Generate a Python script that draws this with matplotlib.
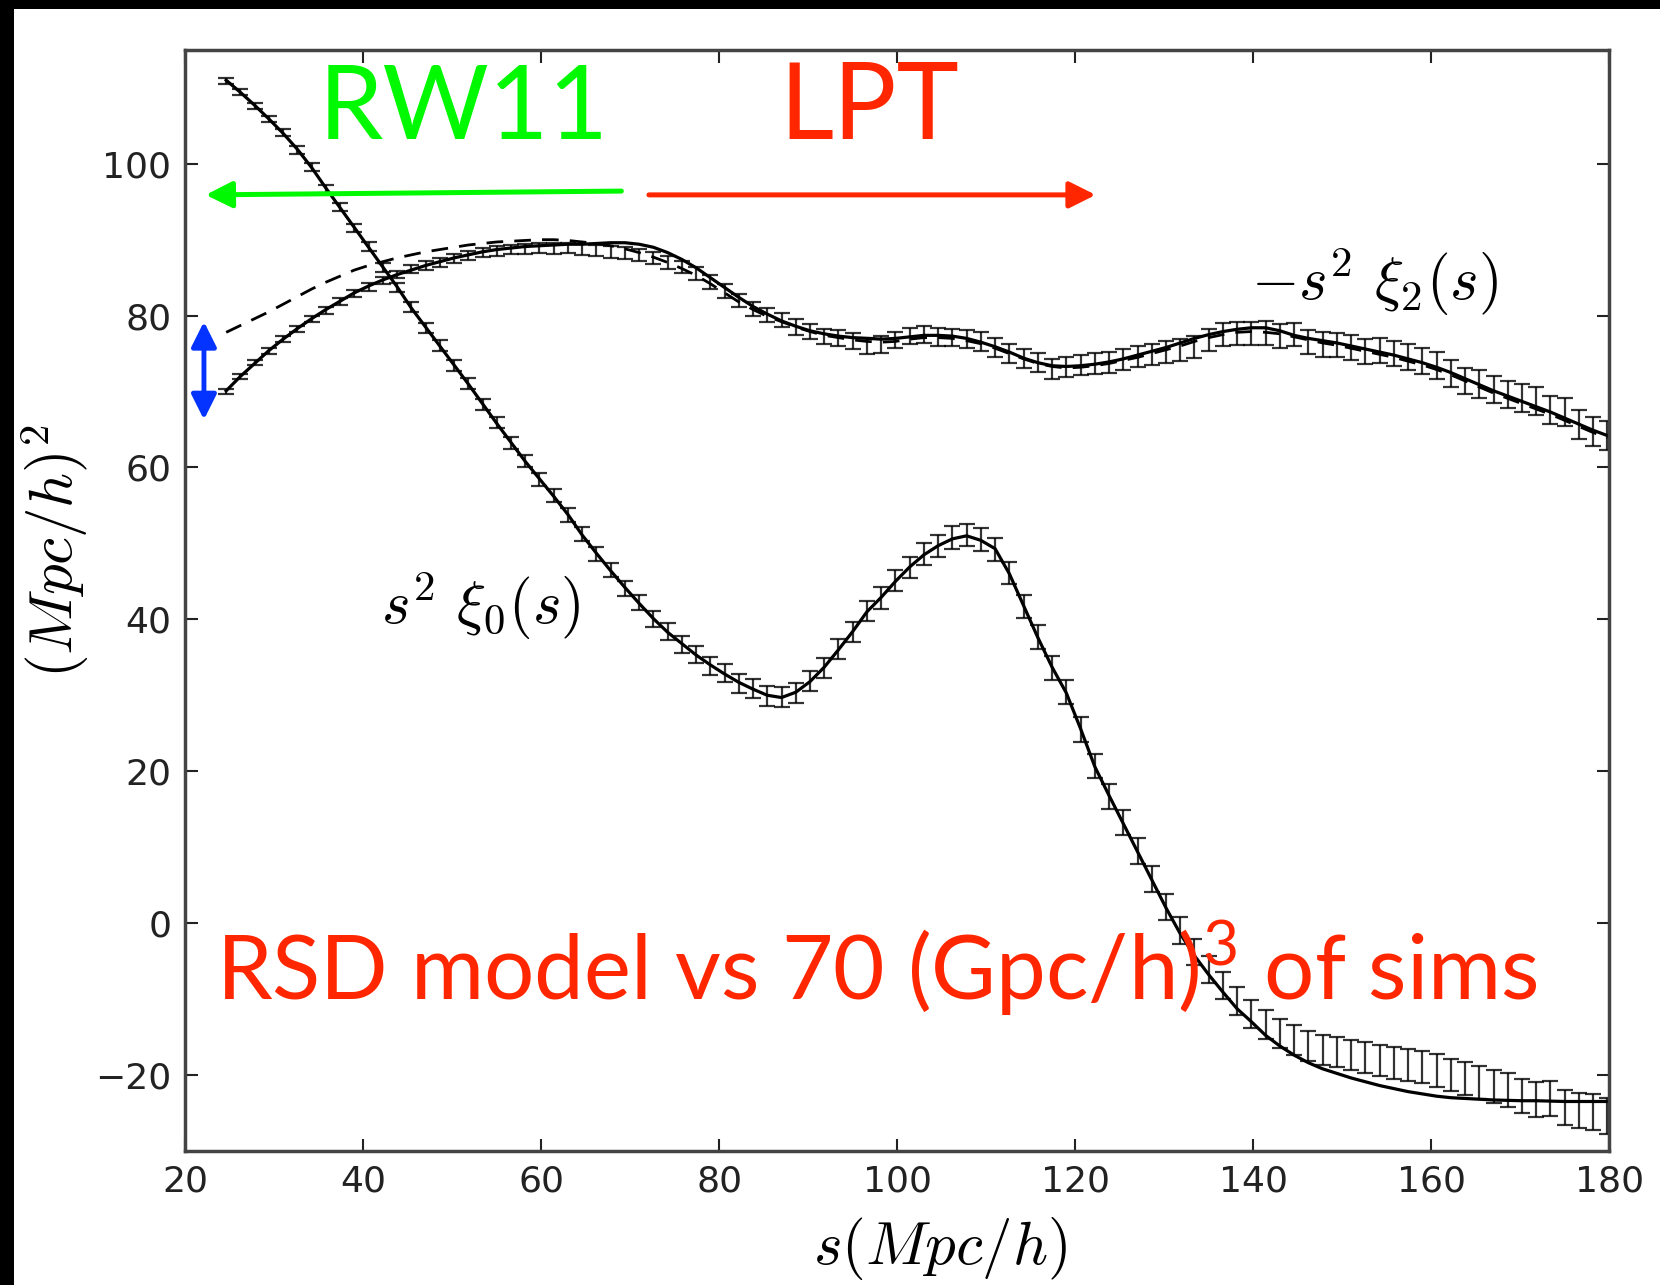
import numpy as np
import matplotlib
matplotlib.use("Agg")
import matplotlib.pyplot as plt
from matplotlib.patches import Rectangle

plt.rcParams['mathtext.fontset'] = 'custom'
plt.rcParams['mathtext.rm'] = 'Lato'

# bin centres in Mpc/h
s_bins = np.round(np.arange(24.6, 180.0, 1.6), 1)

# monopole s^2 xi_0 : model (solid) and simulation points
mono_model = [111.0, 109.4, 107.7, 105.9, 104.0, 101.9, 99.5, 96.8, 94.2, 91.6,
              89.0, 86.4, 83.8, 81.0, 78.5, 76.0, 73.5, 71.0, 68.4, 65.8,
              63.3, 60.8, 58.5, 56.2, 53.8, 51.1, 48.7, 46.4, 44.2, 42.1,
              40.1, 38.3, 36.8, 35.3, 34.0, 32.8, 31.7, 30.8, 30.0, 29.7,
              30.4, 31.8, 33.7, 36.0, 38.4, 41.0, 42.9, 45.0, 46.9, 48.5,
              49.7, 50.6, 51.0, 50.4, 49.3, 46.0, 41.8, 37.6, 33.7, 30.3,
              25.6, 20.6, 16.8, 13.1, 9.4, 5.7, 2.0, -1.4, -4.3, -6.8,
              -9.1, -11.3, -13.0, -14.8, -16.2, -17.4, -18.4, -19.2, -19.8, -20.4,
              -20.9, -21.4, -21.8, -22.2, -22.5, -22.8, -23.0, -23.1, -23.2, -23.3,
              -23.35, -23.4, -23.4, -23.45, -23.5, -23.5, -23.5, -23.5]
mono_data = [110.9, 109.5, 107.6, 105.9, 104.1, 101.8, 99.6, 96.7, 94.3, 91.5,
             89.1, 86.3, 83.7, 81.1, 78.4, 76.1, 73.4, 71.1, 68.3, 65.9,
             63.2, 60.9, 58.4, 56.3, 53.7, 51.2, 48.6, 46.5, 44.1, 42.2,
             40.0, 38.4, 36.7, 35.4, 33.9, 32.9, 31.6, 30.9, 29.9, 29.8,
             30.3, 31.9, 33.6, 36.1, 38.3, 41.1, 42.8, 45.1, 46.8, 48.6,
             49.6, 50.8, 51.1, 50.5, 49.2, 46.1, 41.7, 37.7, 33.6, 30.4,
             25.5, 20.7, 16.7, 13.2, 9.5, 5.8, 2.1, -1.0, -3.8, -6.1,
             -8.2, -10.3, -12.0, -13.4, -14.5, -15.4, -16.2, -16.7, -17.0, -17.4,
             -17.7, -18.1, -18.4, -18.7, -19.0, -19.4, -20.0, -20.5, -21.0, -21.5,
             -22.0, -22.8, -23.2, -23.1, -24.3, -24.7, -24.9, -25.4]
mono_err = [0.4, 0.4, 0.4, 0.45, 0.45, 0.5, 0.5, 0.5, 0.55, 0.55,
            0.6, 0.6, 0.6, 0.65, 0.65, 0.7, 0.7, 0.7, 0.75, 0.75,
            0.8, 0.8, 0.85, 0.85, 0.9, 0.9, 0.95, 0.95, 1.0, 1.0,
            1.05, 1.1, 1.1, 1.15, 1.2, 1.2, 1.25, 1.3, 1.3, 1.3,
            1.3, 1.3, 1.3, 1.35, 1.35, 1.35, 1.4, 1.4, 1.4, 1.45,
            1.45, 1.5, 1.5, 1.5, 1.5, 1.5, 1.55, 1.55, 1.55, 1.6,
            1.6, 1.6, 1.65, 1.65, 1.7, 1.7, 1.7, 1.75, 1.75, 1.8,
            1.8, 1.85, 1.85, 1.9, 1.9, 1.95, 1.95, 2.0, 2.0, 2.0,
            2.05, 2.05, 2.1, 2.1, 2.1, 2.15, 2.15, 2.2, 2.2, 2.2,
            2.25, 2.25, 2.3, 2.3, 2.35, 2.35, 2.4, 2.4]

# quadrupole -s^2 xi_2 : LPT model (solid), RW11 model (dashed), simulation points
quad_model = [70.1, 72.0, 73.7, 75.4, 76.9, 78.3, 79.6, 80.8, 81.9, 83.0,
              83.9, 84.7, 85.4, 86.0, 86.6, 87.1, 87.6, 88.0, 88.4, 88.7,
              88.9, 89.1, 89.2, 89.3, 89.4, 89.4, 89.5, 89.6, 89.6, 89.4,
              89.0, 88.3, 87.4, 86.3, 85.0, 83.7, 82.4, 81.2, 80.2, 79.3,
              78.6, 78.0, 77.6, 77.3, 77.1, 77.0, 76.9, 77.0, 77.2, 77.4,
              77.4, 77.3, 77.0, 76.5, 75.9, 75.2, 74.4, 73.8, 73.4, 73.3,
              73.4, 73.6, 73.9, 74.3, 74.8, 75.3, 75.8, 76.4, 77.0, 77.5,
              77.9, 78.2, 78.4, 78.4, 78.0, 77.4, 77.0, 76.7, 76.4, 76.0,
              75.6, 75.2, 74.8, 74.3, 73.8, 73.2, 72.5, 71.7, 70.9, 70.1,
              69.4, 68.7, 68.0, 67.3, 66.5, 65.7, 64.9, 64.2]
quad_rw11 = [77.8, 78.7, 79.6, 80.5, 81.5, 82.5, 83.5, 84.4, 85.2, 86.0,
             86.6, 87.1, 87.6, 88.0, 88.4, 88.7, 89.0, 89.3, 89.5, 89.7,
             89.8, 89.9, 90.0, 90.0, 89.9, 89.7, 89.5, 89.2, 88.8, 88.3,
             87.7, 87.0, 86.2, 85.3, 84.2, 83.0, 81.8, 80.8, 79.9, 79.2,
             78.5, 77.9, 77.4, 77.1, 76.8, 76.6, 76.5, 76.6, 76.9, 77.1,
             77.1, 77.0, 76.7, 76.3, 75.7, 75.0, 74.3, 73.7, 73.3, 73.1,
             73.2, 73.4, 73.7, 74.1, 74.5, 75.0, 75.5, 76.0, 76.6, 77.1,
             77.5, 77.8, 77.9, 77.8, 77.6, 77.2, 76.8, 76.4, 76.1, 75.7,
             75.3, 74.9, 74.5, 74.0, 73.5, 72.9, 72.2, 71.4, 70.6, 69.8,
             69.1, 68.4, 67.7, 67.0, 66.2, 65.4, 64.6, 63.9]
quad_data = [70.0, 72.0, 73.8, 75.4, 76.9, 78.2, 79.6, 80.7, 81.9, 82.9,
             83.8, 84.6, 85.4, 86.1, 86.6, 87.0, 87.5, 87.9, 88.3, 88.5,
             88.7, 88.8, 88.9, 88.8, 88.9, 88.7, 88.6, 88.4, 88.2, 88.0,
             87.6, 87.0, 86.4, 85.6, 84.4, 83.2, 82.0, 80.9, 80.1, 79.4,
             78.5, 77.9, 77.2, 77.0, 76.6, 76.0, 76.2, 76.8, 77.3, 77.5,
             77.2, 77.1, 76.9, 76.6, 75.8, 75.0, 74.3, 73.8, 73.0, 73.2,
             73.5, 73.7, 73.8, 74.2, 74.6, 74.9, 75.2, 75.5, 75.9, 76.8,
             77.5, 77.6, 77.6, 77.7, 77.3, 77.5, 76.5, 76.2, 76.1, 75.8,
             75.3, 75.4, 75.0, 74.6, 74.0, 73.4, 72.4, 71.4, 71.0, 70.3,
             69.6, 69.2, 68.8, 67.6, 67.3, 65.7, 64.7, 64.2]
quad_err = [0.35, 0.35, 0.35, 0.4, 0.4, 0.4, 0.4, 0.45, 0.45, 0.45,
            0.5, 0.5, 0.5, 0.55, 0.55, 0.55, 0.6, 0.6, 0.6, 0.65,
            0.65, 0.65, 0.7, 0.7, 0.7, 0.75, 0.75, 0.75, 0.8, 0.8,
            0.8, 0.85, 0.85, 0.85, 0.9, 0.9, 0.9, 0.95, 0.95, 0.95,
            1.0, 1.0, 1.0, 1.05, 1.05, 1.05, 1.1, 1.1, 1.1, 1.15,
            1.15, 1.15, 1.2, 1.2, 1.2, 1.25, 1.25, 1.25, 1.3, 1.3,
            1.3, 1.35, 1.35, 1.35, 1.4, 1.4, 1.4, 1.45, 1.45, 1.45,
            1.5, 1.5, 1.5, 1.55, 1.55, 1.55, 1.6, 1.6, 1.6, 1.65,
            1.65, 1.65, 1.7, 1.7, 1.7, 1.75, 1.75, 1.75, 1.8, 1.8,
            1.8, 1.85, 1.85, 1.85, 1.9, 1.9, 1.9, 1.95]

x_ticks = [20, 40, 60, 80, 100, 120, 140, 160, 180]
y_ticks = [-20, 0, 20, 40, 60, 80, 100]

RED = '#ff2600'
GREEN = '#00f900'
BLUE = '#0433ff'

fig = plt.figure(figsize=(16.6, 12.85), dpi=100)
fig.patch.set_facecolor('white')
# black slide edge on the left and top
fig.add_artist(Rectangle((0, 0), 14 / 1660, 1, transform=fig.transFigure,
                         facecolor='black', edgecolor='none'))
fig.add_artist(Rectangle((0, 1 - 9 / 1285), 1, 9 / 1285, transform=fig.transFigure,
                         facecolor='black', edgecolor='none'))

ax = fig.add_axes([0.1116, 0.1044, 0.8578, 0.8568])

ax.errorbar(s_bins, mono_data, yerr=mono_err, fmt='none', ecolor='black',
            elinewidth=1.6, capsize=5.5, capthick=1.6, alpha=0.8)
ax.errorbar(s_bins, quad_data, yerr=quad_err, fmt='none', ecolor='black',
            elinewidth=1.6, capsize=5.5, capthick=1.6, alpha=0.8)
ax.plot(s_bins, mono_model, color='black', lw=2.3)
ax.plot(s_bins, quad_model, color='black', lw=2.3)
ax.plot(s_bins, quad_rw11, color='black', lw=2.0, ls=(0, (6, 4)))

ax.set_xlim(20, 180)
ax.set_ylim(-30, 115)
ax.set_xticks(x_ticks)
ax.set_yticks(y_ticks)
ax.tick_params(direction='in', length=9, width=1.5, top=True, right=True,
               labelsize=26, colors='#222222', pad=10)
for sp in ax.spines.values():
    sp.set_linewidth(2.5)
    sp.set_color('#444444')

ax.set_xlabel(r'$s(Mpc/h)$', fontsize=44, math_fontfamily='cm')
ax.set_ylabel(r'$(Mpc/h)^2$', fontsize=44, math_fontfamily='cm')
ax.xaxis.set_label_coords(0.530, -0.058)
ax.yaxis.set_label_coords(-0.066, 0.545)

ax.text(42.0, 39.4, r'$s^2\ \xi_0(s)$', fontsize=44, math_fontfamily='cm',
        va='baseline')
ax.text(139.8, 82.0, r'$-s^2\ \xi_2(s)$', fontsize=44, math_fontfamily='cm',
        va='baseline')

ax.text(35.0, 103.2, 'RW11', color=GREEN, fontsize=74, family='Lato', va='baseline')
ax.text(86.8, 103.2, 'LPT', color=RED, fontsize=76, family='Lato', va='baseline')
ax.text(23.4, -10.1, r'RSD model vs 70 (Gpc/h)$^{\mathrm{3}}$ of sims', color=RED,
        fontsize=64, family='Lato', va='baseline')

ax.annotate('', xy=(22.3, 95.9), xytext=(69.0, 96.4),
            arrowprops=dict(arrowstyle='-|>', color=GREEN, lw=3.6,
                            mutation_scale=40, shrinkA=0, shrinkB=0))
ax.annotate('', xy=(122.3, 95.9), xytext=(72.1, 95.9),
            arrowprops=dict(arrowstyle='-|>', color=RED, lw=3.6,
                            mutation_scale=40, shrinkA=0, shrinkB=0))
ax.annotate('', xy=(22.1, 79.2), xytext=(22.1, 66.3),
            arrowprops=dict(arrowstyle='<|-|>', color=BLUE, lw=3.5,
                            mutation_scale=38, shrinkA=0, shrinkB=0))

fig.savefig('out.png', dpi=100, facecolor=fig.get_facecolor())
